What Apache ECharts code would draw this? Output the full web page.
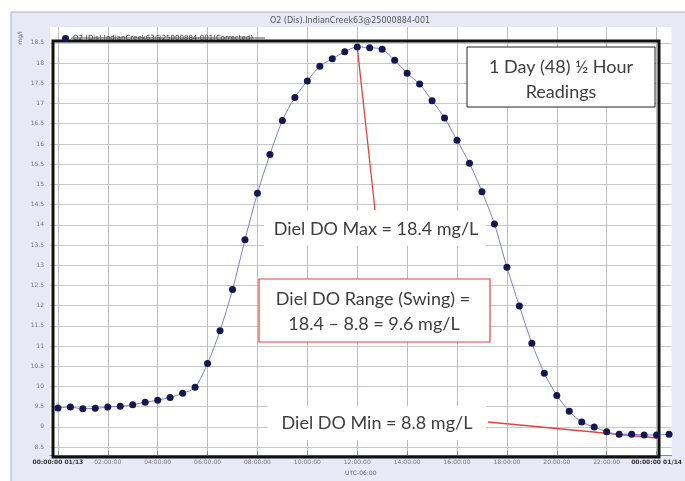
<!DOCTYPE html>
<html>
<head>
<meta charset="utf-8">
<script src="https://cdn.jsdelivr.net/npm/echarts@6/dist/echarts.min.js"></script>
<style>
html,body{margin:0;padding:0;background:#fff;}
#chart{width:685px;height:481px;}
</style>
</head>
<body>
<div id="chart"></div>
<script>
// ---- Data ----
const times = ['00:00','00:30','01:00','01:30','02:00','02:30','03:00','03:30','04:00','04:30',
  '05:00','05:30','06:00','06:30','07:00','07:30','08:00','08:30','09:00','09:30',
  '10:00','10:30','11:00','11:30','12:00','12:30','13:00','13:30','14:00','14:30',
  '15:00','15:30','16:00','16:30','17:00','17:30','18:00','18:30','19:00','19:30',
  '20:00','20:30','21:00','21:30','22:00','22:30','23:00','23:30','24:00','24:30'];
const doValues = [9.47,9.49,9.45,9.46,9.49,9.51,9.55,9.61,9.66,9.73,
  9.83,9.98,10.57,11.38,12.40,13.63,14.78,15.74,16.58,17.15,
  17.56,17.92,18.11,18.28,18.40,18.38,18.34,18.07,17.75,17.48,
  17.07,16.64,16.09,15.52,14.82,14.02,12.95,11.99,11.07,10.33,
  9.78,9.39,9.12,9.00,8.88,8.82,8.82,8.80,8.80,8.82];
const xTickHours = [0,2,4,6,8,10,12,14,16,18,20,22,24];
const xTickLabels = ['00:00:00 01/13','02:00:00','04:00:00','06:00:00','08:00:00','10:00:00',
  '12:00:00','14:00:00','16:00:00','18:00:00','20:00:00','22:00:00','00:00:00 01/14'];
const yTicks = [8.5,9,9.5,10,10.5,11,11.5,12,12.5,13,13.5,14,14.5,15,15.5,16,16.5,17,17.5,18,18.5];
const seriesName = 'O2 (Dis).IndianCreek63@25000884-001(Corrected)';
const chartTitle = 'O2 (Dis).IndianCreek63@25000884-001';
const yUnit = 'mg/l';

const toHours = t => { const p = t.split(':'); return +p[0] + (+p[1]) / 60; };
const points = times.map((t, i) => [toHours(t), doValues[i]]);

const chart = echarts.init(document.getElementById('chart'), null, {renderer: 'canvas'});
const txt = '#3e3e3e';
const red = '#e2453f';
const annoFont = '18px Lato, "Open Sans", sans-serif';

const bgRect = {type: 'rect', z: -10, silent: true,
  shape: {x: 11, y: 12, width: 680, height: 475},
  style: {fill: '#e8e8f7', stroke: '#aeb0d4', lineWidth: 1}};

chart.setOption({
  backgroundColor: '#ffffff',
  animation: false,
  title: {
    text: chartTitle,
    left: 345, top: 12, textAlign: 'center',
    textStyle: {fontSize: 8, fontWeight: 'normal', color: '#555', fontFamily: 'DejaVu Sans'}
  },
  legend: {
    left: 57, top: 30,
    itemWidth: 7, itemHeight: 7, icon: 'circle', itemGap: 4,
    textStyle: {fontSize: 7, color: '#222', fontFamily: 'DejaVu Sans', padding: [0,0,0,-1]},
    data: [seriesName]
  },
  grid: {
    left: 50, right: 5, top: 27, bottom: 23,
    show: true, backgroundColor: '#ffffff', borderWidth: 0,
    containLabel: false
  },
  xAxis: {
    type: 'value', min: -0.316, max: 24.6,
    name: 'UTC-06:00', nameLocation: 'middle', nameGap: 13,
    nameTextStyle: {fontSize: 6, color: '#666', fontFamily: 'DejaVu Sans'},
    axisLine: {show: true, lineStyle: {color: '#888', width: 1}},
    axisTick: {show: true, inside: true, length: 4, customValues: xTickHours, lineStyle: {color: '#888'}},
    axisLabel: {
      customValues: xTickHours, fontSize: 6, color: '#777', margin: 4, fontFamily: 'DejaVu Sans',
      formatter: v => {
        const i = xTickHours.indexOf(v);
        const s = i >= 0 ? xTickLabels[i] : '';
        return (i === 0 || i === xTickHours.length - 1) ? '{b|' + s + '}' : s;
      },
      rich: {b: {fontSize: 6, color: '#333', fontWeight: 'bold', fontFamily: 'DejaVu Sans'}}
    },
    splitLine: {show: true, lineStyle: {color: '#bdbdbd', width: 1}}
  },
  yAxis: {
    type: 'value', min: 8.303, max: 18.893,
    axisLine: {show: false},
    axisTick: {show: false, customValues: yTicks},
    axisLabel: {
      customValues: yTicks, fontSize: 6, color: '#777', margin: 6, fontFamily: 'DejaVu Sans',
      formatter: v => String(v)
    },
    splitLine: {show: true, lineStyle: {color: '#c8c8c8', width: 1}}
  },
  series: [{
    name: seriesName,
    type: 'line',
    data: points,
    smooth: 0.3,
    clip: false,
    z: 5,
    symbol: 'circle', symbolSize: 7,
    itemStyle: {color: '#16164f', borderWidth: 0},
    lineStyle: {color: '#7d7fd6', width: 1}
  }],
  graphic: [bgRect]
});

// Annotation overlays (drawn like the slide annotations)
const maxIdx = doValues.indexOf(Math.max(...doValues));
const maxPx = chart.convertToPixel({gridIndex: 0}, points[maxIdx]);

function label(x, y, text) {
  return {type: 'text', z: 21, silent: true, x: x, y: y,
    style: {text: text, fill: txt, font: annoFont, align: 'center', verticalAlign: 'middle'}};
}

chart.setOption({
  graphic: [
    bgRect,
    // y unit
    {type: 'text', z: 5, silent: true, x: 20, y: 38, rotation: Math.PI / 2,
     style: {text: yUnit, fill: '#666', font: '6px "DejaVu Sans"', align: 'center', verticalAlign: 'middle'}},
    // legend underline
    {type: 'line', z: 5, silent: true,
     shape: {x1: 71, y1: 38, x2: 265, y2: 38},
     style: {stroke: '#555', lineWidth: 1}},
    // thick black frame
    {type: 'rect', z: 3, silent: true,
     shape: {x: 53, y: 41, width: 606, height: 416},
     style: {fill: 'none', stroke: '#111', lineWidth: 3}},
    // max pointer line
    {type: 'line', z: 3, silent: true,
     shape: {x1: maxPx[0], y1: maxPx[1], x2: 375, y2: 210},
     style: {stroke: red, lineWidth: 1.3}},
    // min pointer line
    {type: 'line', z: 3, silent: true,
     shape: {x1: 488, y1: 422, x2: 657, y2: 438},
     style: {stroke: red, lineWidth: 1.3}},
    // 1 Day box
    {type: 'rect', z: 20, silent: true,
     shape: {x: 467, y: 47, width: 188, height: 60},
     style: {fill: '#fff', stroke: '#222', lineWidth: 1}},
    label(561, 67, '1 Day (48) \u00BD Hour'),
    label(561, 92, 'Readings'),
    // max text on white
    {type: 'rect', z: 20, silent: true,
     shape: {x: 264, y: 211, width: 222, height: 35},
     style: {fill: '#fff'}},
    label(376, 229, 'Diel DO Max = 18.4 mg/L'),
    // range box
    {type: 'rect', z: 20, silent: true,
     shape: {x: 259, y: 279, width: 231, height: 63},
     style: {fill: '#fff', stroke: red, lineWidth: 1.2}},
    label(373, 299, 'Diel DO Range (Swing) ='),
    label(374, 324, '18.4 \u2013 8.8 = 9.6 mg/L'),
    // min text on white
    {type: 'rect', z: 20, silent: true,
     shape: {x: 268, y: 406, width: 218, height: 34},
     style: {fill: '#fff'}},
    label(377, 423, 'Diel DO Min = 8.8 mg/L')
  ]
});
</script>
</body>
</html>
